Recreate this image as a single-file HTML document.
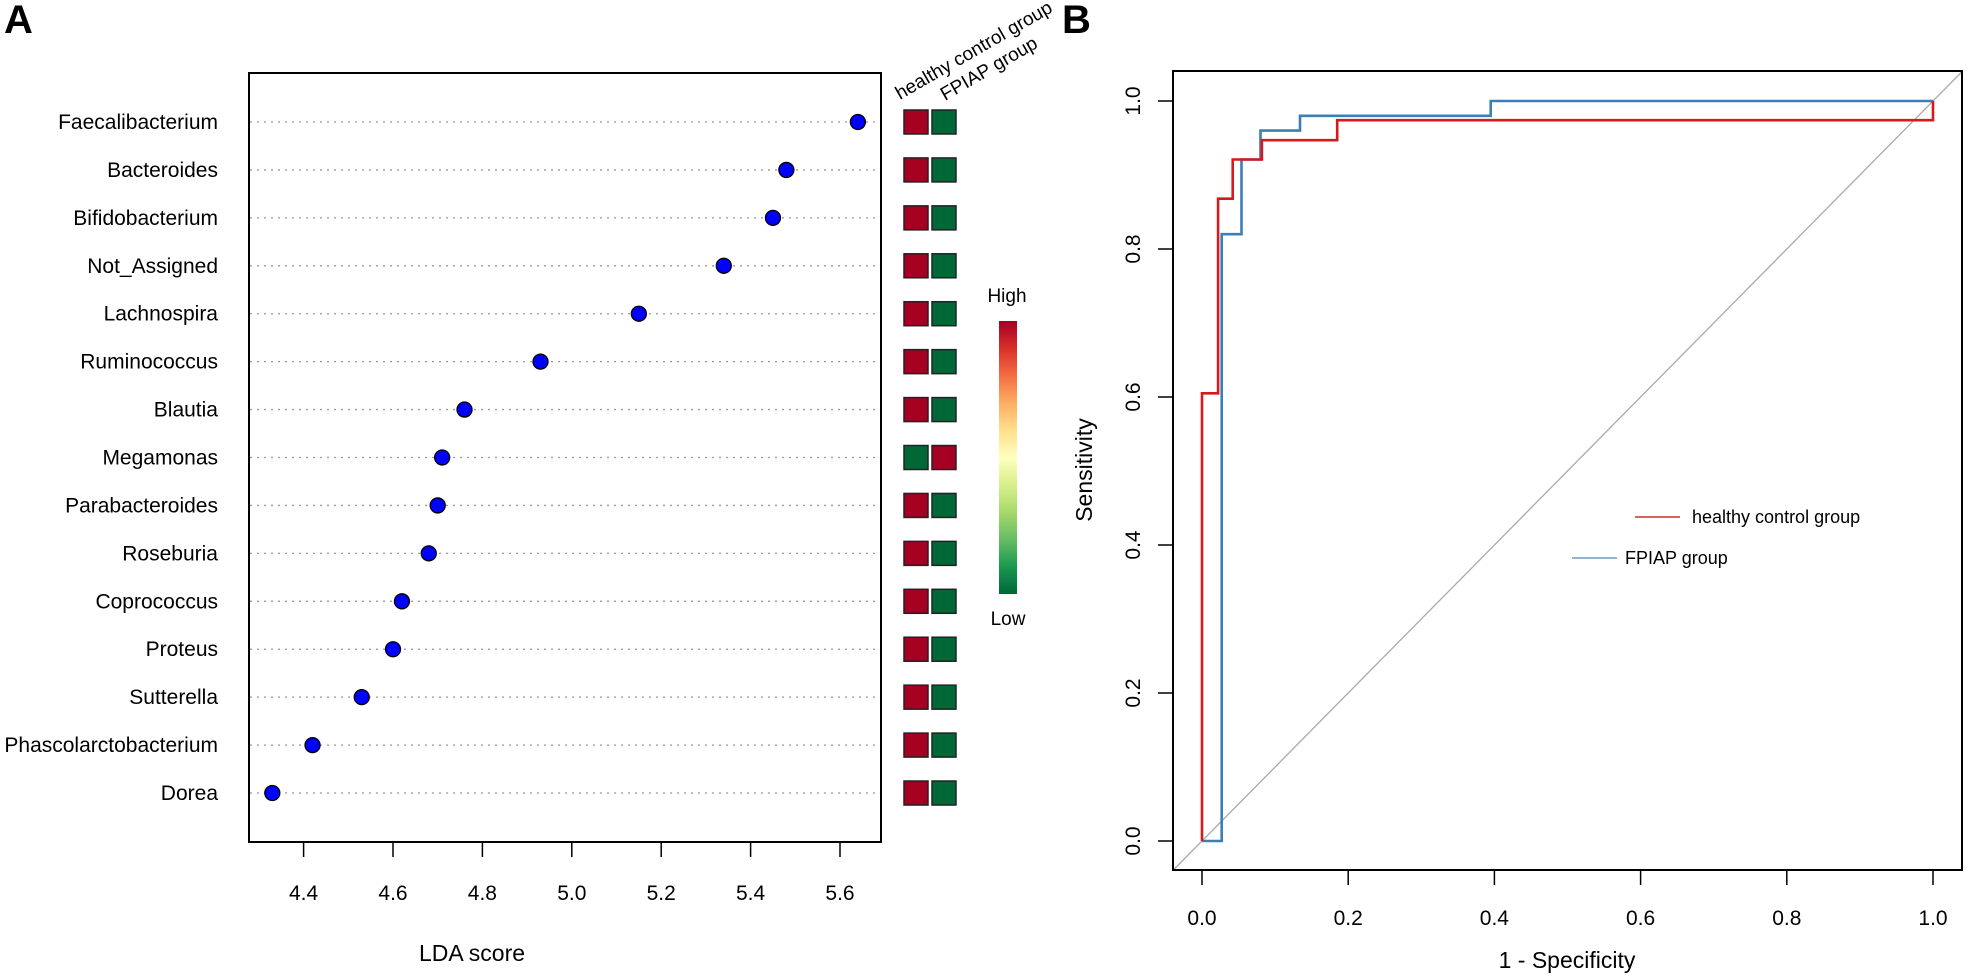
<!DOCTYPE html>
<html><head><meta charset="utf-8"><style>
html,body{margin:0;padding:0;background:#fff;}
svg{display:block;font-family:"Liberation Sans",sans-serif;}
</style></head><body>
<svg id="chart" width="1977" height="976" viewBox="0 0 1977 976" xmlns="http://www.w3.org/2000/svg">
<defs>
<linearGradient id="rdylgn" x1="0" y1="0" x2="0" y2="1">
<stop offset="0" stop-color="#a50026"/><stop offset="0.1" stop-color="#d73027"/><stop offset="0.2" stop-color="#f46d43"/><stop offset="0.3" stop-color="#fdae61"/><stop offset="0.4" stop-color="#fee08b"/><stop offset="0.5" stop-color="#ffffbf"/><stop offset="0.6" stop-color="#d9ef8b"/><stop offset="0.7" stop-color="#a6d96a"/><stop offset="0.8" stop-color="#66bd63"/><stop offset="0.9" stop-color="#1a9850"/><stop offset="1" stop-color="#006837"/>
</linearGradient>
<clipPath id="clipB"><rect x="1173" y="71" width="789" height="799"/></clipPath>
</defs>
<text x="4" y="33" font-size="40" font-weight="bold">A</text>
<text x="1062" y="33" font-size="40" font-weight="bold">B</text>
<g id="panelA"></g>
<g id="panelB"></g>
</svg>
<script>
const taxa = ["Faecalibacterium","Bacteroides","Bifidobacterium","Not_Assigned","Lachnospira","Ruminococcus","Blautia","Megamonas","Parabacteroides","Roseburia","Coprococcus","Proteus","Sutterella","Phascolarctobacterium","Dorea"];
const ldaScores = [5.64,5.48,5.45,5.34,5.15,4.93,4.76,4.71,4.70,4.68,4.62,4.60,4.53,4.42,4.33];
const healthyHigh = [1,1,1,1,1,1,1,0,1,1,1,1,1,1,1];
const ldaTicks = [4.4,4.6,4.8,5.0,5.2,5.4,5.6];
const rocTicks = [0.0,0.2,0.4,0.6,0.8,1.0];
const healthyFpr = [0,0,0.022,0.022,0.042,0.042,0.082,0.082,0.185,0.185,1,1];
const healthyTpr = [0,0.605,0.605,0.868,0.868,0.921,0.921,0.947,0.947,0.974,0.974,1];
const fpiapFpr = [0,0.027,0.027,0.054,0.054,0.08,0.08,0.134,0.134,0.395,0.395,1];
const fpiapTpr = [0,0,0.82,0.82,0.921,0.921,0.96,0.96,0.98,0.98,1,1];

const NS="http://www.w3.org/2000/svg";
function mk(parent,tag,attrs,text){const e=document.createElementNS(NS,tag);for(const k in attrs)e.setAttribute(k,attrs[k]);if(text!==undefined)e.textContent=text;parent.appendChild(e);return e;}

// Panel A
const A=document.getElementById('panelA');
const xA=v=>303.6+(v-4.4)*(840-303.6)/1.2;
const yA=i=>122+i*47.93;
let e=mk(A,'rect',{x:249,y:73,width:632,height:769,fill:'none',stroke:'#000','stroke-width':2});


taxa.forEach((t,i)=>{
  let l=mk(A,'line',{x1:250,x2:880,y1:yA(i),y2:yA(i),stroke:'#999','stroke-width':1.3,'stroke-dasharray':'2,5'});
  
  
  let tx=mk(A,'text',{x:218,y:yA(i)+7,'font-size':21,'text-anchor':'end'},t);
  
  
  let c=mk(A,'circle',{cx:xA(ldaScores[i]),cy:yA(i),r:7.5,fill:'#0000ff',stroke:'#000','stroke-width':1.3});
  
  
  const red='#a50021',green='#006837';
  let s1=mk(A,'rect',{x:904,y:yA(i)-12,width:24,height:24,fill:healthyHigh[i]?red:green,stroke:'#222','stroke-width':1.5});
  
  
  let s2=mk(A,'rect',{x:932,y:yA(i)-12,width:24,height:24,fill:healthyHigh[i]?green:red,stroke:'#222','stroke-width':1.5});
  
  
});
e=mk(A,'line',{x1:xA(ldaTicks[0]),x2:xA(ldaTicks[ldaTicks.length-1]),y1:842,y2:842,stroke:'#000','stroke-width':1.5});


ldaTicks.forEach(v=>{
  let t=mk(A,'line',{x1:xA(v),x2:xA(v),y1:842,y2:857,stroke:'#000','stroke-width':1.5});
  
  
  let l=mk(A,'text',{x:xA(v),y:900,'font-size':21,'text-anchor':'middle'},v.toFixed(1));
  
  
});
e=mk(A,'text',{x:472,y:961,'font-size':23,'text-anchor':'middle'},'LDA score');


e=mk(A,'text',{x:900,y:100,'font-size':19,transform:'rotate(-30 900 100)'},'healthy control group');


e=mk(A,'text',{x:945,y:101,'font-size':19,transform:'rotate(-30 945 101)'},'FPIAP group');


e=mk(A,'rect',{x:999,y:321,width:18,height:273,fill:'url(#rdylgn)'});


e=mk(A,'text',{x:1007,y:302,'font-size':19,'text-anchor':'middle'},'High');


e=mk(A,'text',{x:1008,y:625,'font-size':19,'text-anchor':'middle'},'Low');



// Panel B
const B=document.getElementById('panelB');
const xB=v=>1202+v*731;
const yB=v=>841-v*740;
e=mk(B,'line',{x1:xB(-0.04),y1:yB(-0.04),x2:xB(1.04),y2:yB(1.04),stroke:'#aaa','stroke-width':1.3,'clip-path':'url(#clipB)'});


function pts(xs,ys){return xs.map((x,i)=>xB(x).toFixed(1)+','+yB(ys[i]).toFixed(1)).join(' ');}
e=mk(B,'polyline',{points:pts(fpiapFpr,fpiapTpr),fill:'none',stroke:'#3a7fb5','stroke-width':2.6});


e=mk(B,'polyline',{points:pts(healthyFpr,healthyTpr),fill:'none',stroke:'#d7191c','stroke-width':2.6});


e=mk(B,'rect',{x:1173,y:71,width:789,height:799,fill:'none',stroke:'#000','stroke-width':2});


rocTicks.forEach(v=>{
  let t=mk(B,'line',{x1:xB(v),x2:xB(v),y1:870,y2:885,stroke:'#000','stroke-width':1.5});
  
  
  let l=mk(B,'text',{x:xB(v),y:925,'font-size':21,'text-anchor':'middle'},v.toFixed(1));
  
  
  let t2=mk(B,'line',{x1:1158,x2:1173,y1:yB(v),y2:yB(v),stroke:'#000','stroke-width':1.5});
  
  
  let l2=mk(B,'text',{x:1140,y:yB(v),'font-size':21,'text-anchor':'middle',transform:`rotate(-90 1140 ${yB(v)})`},v.toFixed(1));
  
  
});
e=mk(B,'text',{x:1567,y:968,'font-size':23,'text-anchor':'middle'},'1 - Specificity');


e=mk(B,'text',{x:1092,y:470,'font-size':23,'text-anchor':'middle',transform:'rotate(-90 1092 470)'},'Sensitivity');


e=mk(B,'line',{x1:1635,x2:1680,y1:517,y2:517,stroke:'#e06060','stroke-width':2});


e=mk(B,'text',{x:1692,y:523,'font-size':18},'healthy control group');


e=mk(B,'line',{x1:1572,x2:1617,y1:558,y2:558,stroke:'#8fb5cf','stroke-width':2});


e=mk(B,'text',{x:1625,y:564,'font-size':18},'FPIAP group');


</script>
</body></html>
